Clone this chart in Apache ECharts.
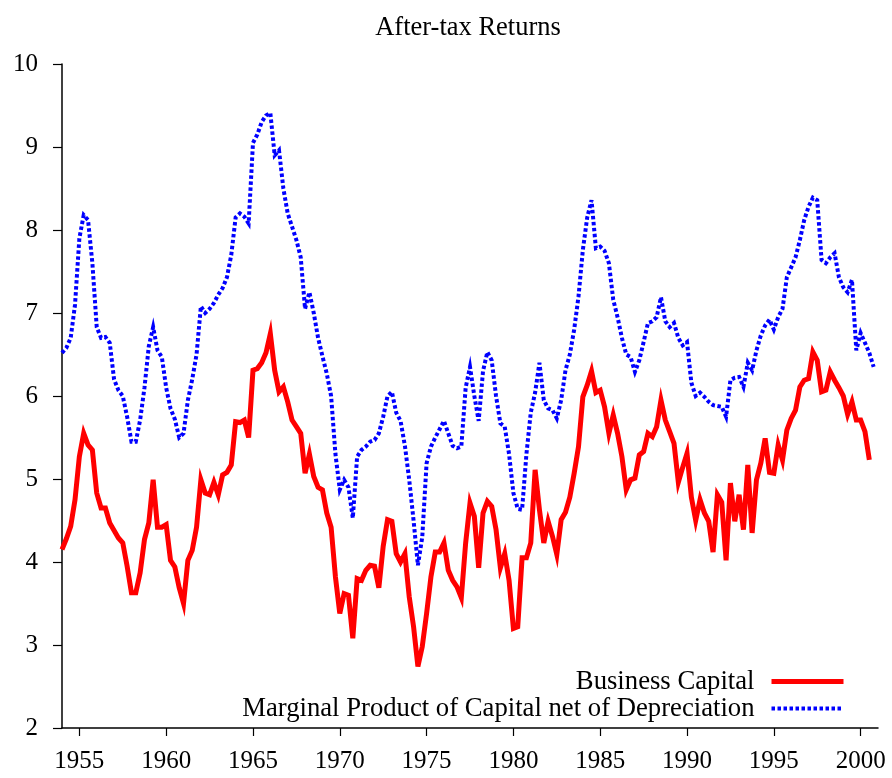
<!DOCTYPE html>
<html>
<head>
<meta charset="utf-8">
<title>After-tax Returns</title>
<script src="https://cdn.jsdelivr.net/npm/echarts@6/dist/echarts.min.js"></script>
<style>
  html, body { margin: 0; padding: 0; background: #fff; }
  #chart { width: 892px; height: 778px; }
</style>
</head>
<body>
<div id="chart"></div>
<script>
/* Quarterly data, first quarter = 1954 Q1 */
const firstYear = 1954;
const yearTicks = [1955, 1960, 1965, 1970, 1975, 1980, 1985, 1990, 1995, 2000];

// Business Capital (red)
const businessCapital = [
    4.15, 4.28, 4.43, 4.75, 5.27, 5.55, 5.41, 5.35, 4.83, 4.65,
    4.65, 4.47, 4.38, 4.29, 4.23, 3.95, 3.63, 3.63, 3.87, 4.27,
    4.47, 4.99, 4.42, 4.42, 4.45, 4.02, 3.94, 3.69, 3.50, 4.02,
    4.14, 4.42, 4.99, 4.83, 4.81, 4.96, 4.81, 5.05, 5.08, 5.17,
    5.69, 5.68, 5.71, 5.50, 6.31, 6.33, 6.40, 6.52, 6.75, 6.31,
    6.05, 6.11, 5.93, 5.71, 5.63, 5.55, 5.07, 5.30, 5.03, 4.90,
    4.87, 4.59, 4.42, 3.82, 3.38, 3.62, 3.60, 3.08, 3.80, 3.78,
    3.90, 3.96, 3.95, 3.69, 4.19, 4.51, 4.49, 4.10, 4.00, 4.10,
    3.58, 3.22, 2.74, 2.98, 3.38, 3.82, 4.12, 4.12, 4.23, 3.90,
    3.78, 3.70, 3.57, 4.23, 4.71, 4.55, 3.93, 4.59, 4.73, 4.67,
    4.39, 3.93, 4.10, 3.78, 3.20, 3.22, 4.05, 4.05, 4.23, 5.11,
    4.63, 4.23, 4.49, 4.31, 4.09, 4.51, 4.60, 4.78, 5.07, 5.39,
    5.99, 6.13, 6.30, 6.04, 6.07, 5.87, 5.55, 5.77, 5.55, 5.27,
    4.87, 4.99, 5.01, 5.29, 5.33, 5.55, 5.51, 5.63, 5.95, 5.71,
    5.57, 5.43, 4.96, 5.14, 5.31, 4.78, 4.50, 4.75, 4.59, 4.49,
    4.12, 4.81, 4.72, 4.02, 4.95, 4.49, 4.81, 4.39, 5.17, 4.35,
    4.99, 5.19, 5.49, 5.08, 5.07, 5.41, 5.23, 5.59, 5.73, 5.83,
    6.11, 6.19, 6.21, 6.53, 6.43, 6.05, 6.07, 6.29, 6.19, 6.10,
    6.00, 5.78, 5.93, 5.71, 5.71, 5.57, 5.23
];

// Marginal Product of Capital net of Depreciation (blue)
const mpkNet = [
    6.52, 6.58, 6.70, 7.10, 7.90, 8.18, 8.12, 7.60, 6.83, 6.70,
    6.71, 6.64, 6.20, 6.07, 6.00, 5.75, 5.45, 5.45, 5.71, 6.10,
    6.60, 6.83, 6.55, 6.47, 6.10, 5.85, 5.72, 5.50, 5.55, 5.95,
    6.20, 6.50, 7.08, 7.00, 7.05, 7.12, 7.22, 7.30, 7.43, 7.70,
    8.15, 8.20, 8.16, 8.08, 9.05, 9.15, 9.30, 9.38, 9.41, 8.90,
    8.96, 8.50, 8.20, 8.04, 7.88, 7.67, 7.05, 7.25, 7.00, 6.70,
    6.48, 6.27, 6.00, 5.30, 4.87, 4.99, 4.90, 4.53, 5.27, 5.35,
    5.39, 5.45, 5.47, 5.55, 5.75, 6.00, 6.05, 5.80, 5.70, 5.40,
    4.99, 4.50, 3.96, 4.30, 5.19, 5.39, 5.50, 5.60, 5.70, 5.55,
    5.40, 5.37, 5.39, 6.10, 6.35, 6.00, 5.70, 6.30, 6.53, 6.43,
    6.00, 5.67, 5.63, 5.30, 4.83, 4.64, 4.63, 5.30, 5.80, 6.04,
    6.40, 5.95, 5.85, 5.83, 5.73, 5.95, 6.31, 6.50, 6.80, 7.20,
    7.76, 8.15, 8.36, 7.78, 7.80, 7.75, 7.60, 7.16, 6.95, 6.70,
    6.50, 6.47, 6.29, 6.43, 6.65, 6.88, 6.90, 6.95, 7.19, 6.90,
    6.83, 6.88, 6.70, 6.61, 6.65, 6.16, 6.00, 6.04, 5.99, 5.93,
    5.89, 5.88, 5.87, 5.75, 6.19, 6.22, 6.23, 6.11, 6.40, 6.31,
    6.55, 6.73, 6.85, 6.92, 6.80, 6.95, 7.05, 7.43, 7.55, 7.67,
    7.88, 8.12, 8.28, 8.39, 8.36, 7.64, 7.60, 7.67, 7.72, 7.43,
    7.31, 7.25, 7.40, 6.55, 6.76, 6.64, 6.52, 6.35
];

const seriesNames = ['Business Capital', 'Marginal Product of Capital net of Depreciation'];

const serif = "'Liberation Serif', 'DejaVu Serif', 'Times New Roman', serif";

const redLine = { color: '#ff0000', width: 5, join: 'miter', miterLimit: 6 };
const blueLine = { color: '#0000ff', width: 4, type: [3.5, 2.5], join: 'miter', miterLimit: 6 };

// pair every value with its quarter (decimal year)
const withDates = (values) => values.map((v, i) => [firstYear + i / 4, v]);

let chartDom = document.getElementById('chart');
let myChart = echarts.init(chartDom, null, { renderer: 'canvas' });

let option = {
    animation: false,
    backgroundColor: '#fff',
    title: {
        text: 'After-tax Returns',
        left: 463,
        textAlign: 'center',
        top: 10,
        textStyle: {
            fontFamily: serif,
            fontSize: 26.5,
            fontWeight: 'normal',
            color: '#000',
        },
    },
    legend: {
        orient: 'vertical',
        align: 'right',
        right: 41,
        top: 663,
        itemWidth: 72,
        itemHeight: 14,
        itemGap: 0,
        data: [
            { name: seriesNames[0], itemStyle: { opacity: 0 }, lineStyle: redLine },
            { name: seriesNames[1], itemStyle: { opacity: 0 }, lineStyle: blueLine },
        ],
        textStyle: {
            fontFamily: serif,
            fontSize: 26.7,
            color: '#000',
            padding: [0, 12, 0, 0],
        },
    },
    grid: {
        left: 62,
        right: 14,
        top: 64,
        bottom: 50,
        containLabel: false,
    },
    xAxis: {
        type: 'value',
        min: 1954,
        max: 2001,
        splitLine: { show: false },
        axisLine: { show: true, onZero: false, lineStyle: { color: '#000', width: 1.5 } },
        axisTick: {
            show: true,
            length: 8,
            customValues: yearTicks,
            lineStyle: { color: '#000', width: 1.2 },
        },
        axisLabel: {
            customValues: yearTicks,
            formatter: (v) => String(v),
            margin: 21,
            fontFamily: serif,
            fontSize: 25,
            color: '#000',
        },
    },
    yAxis: {
        type: 'value',
        min: 2,
        max: 10,
        interval: 1,
        splitLine: { show: false },
        axisLine: { show: true, lineStyle: { color: '#000', width: 1.5 } },
        axisTick: { show: true, length: 9, lineStyle: { color: '#000', width: 1.2 } },
        axisLabel: {
            margin: 24,
            fontFamily: serif,
            fontSize: 25,
            color: '#000',
        },
    },
    series: [
        {
            name: seriesNames[0],
            type: 'line',
            data: withDates(businessCapital),
            showSymbol: false,
            symbol: 'none',
            color: '#ff0000',
            lineStyle: redLine,
            z: 2,
        },
        {
            name: seriesNames[1],
            type: 'line',
            data: withDates(mpkNet),
            showSymbol: false,
            symbol: 'none',
            color: '#0000ff',
            lineStyle: blueLine,
            z: 3,
        },
    ],
};

option && myChart.setOption(option);
</script>
</body>
</html>
